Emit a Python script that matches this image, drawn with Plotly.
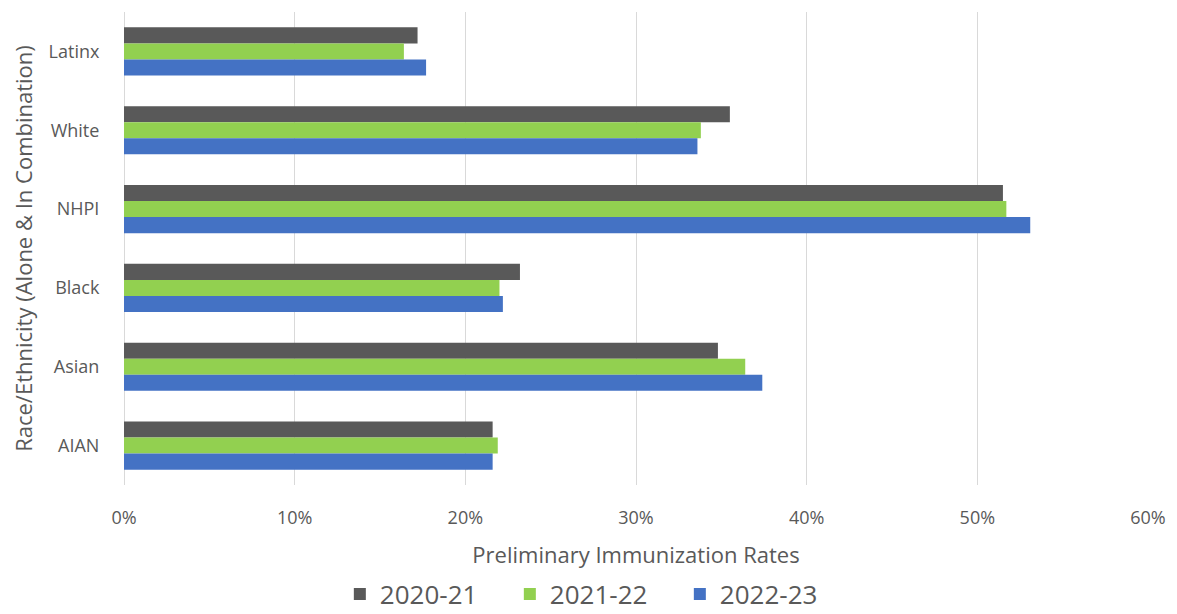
import plotly.graph_objects as go

categories = ["Latinx", "White", "NHPI", "Black", "Asian", "AIAN"]
series_names = ["2020-21", "2021-22", "2022-23"]
rates_2020_21 = [17.2, 35.5, 51.5, 23.2, 34.8, 21.6]
rates_2021_22 = [16.4, 33.8, 51.7, 22.0, 36.4, 21.9]
rates_2022_23 = [17.7, 33.6, 53.1, 22.2, 37.4, 21.6]
colors = ["#595959", "#92D050", "#4472C4"]
x_ticks = [0, 10, 20, 30, 40, 50, 60]
x_tick_labels = ["0%", "10%", "20%", "30%", "40%", "50%", "60%"]

FONT = "Open Sans, Noto Sans, sans-serif"
GREY = "#595959"

fig = go.Figure()
for name, vals, col in zip(series_names, [rates_2020_21, rates_2021_22, rates_2022_23], colors):
    fig.add_trace(go.Bar(
        y=categories, x=vals, name=name, orientation="h",
        marker=dict(color=col, line=dict(width=0)),
    ))

# the page body has an 8px margin, so the figure is sized to fit the window
fig.update_layout(
    width=1169, height=606,
    margin=dict(l=116, r=29, t=4, b=129, autoexpand=False),
    paper_bgcolor="white", plot_bgcolor="white",
    barmode="group", bargap=0.39, bargroupgap=0,
    font=dict(family=FONT, color=GREY),
    showlegend=True,
    legend=dict(
        orientation="h", xref="container", yref="container",
        x=0.502, xanchor="center", y=0.033, yanchor="middle",
        font=dict(size=26, color=GREY, family=FONT),
        entrywidth=125, entrywidthmode="pixels",
        traceorder="normal", itemclick=False, itemdoubleclick=False,
    ),
)
fig.update_xaxes(
    range=[0, 60], tickvals=x_ticks, ticktext=x_tick_labels,
    showgrid=True, gridcolor="#d9d9d9", gridwidth=1,
    zeroline=True, zerolinecolor="#d9d9d9", zerolinewidth=1,
    showline=False, ticks="outside", ticklen=16, tickcolor="rgba(0,0,0,0)",
    tickfont=dict(size=18, color=GREY, family=FONT),
    title=dict(text="Preliminary Immunization Rates", font=dict(size=22, color=GREY, family=FONT), standoff=20),
    automargin=False, fixedrange=True,
)
fig.update_yaxes(
    autorange="reversed", categoryorder="array", categoryarray=categories,
    showgrid=False, showline=False,
    ticks="outside", ticklen=20, tickcolor="rgba(0,0,0,0)",
    tickfont=dict(size=18, color=GREY, family=FONT),
    title=dict(text="Race/Ethnicity (Alone & In Combination)", font=dict(size=22, color=GREY, family=FONT), standoff=16),
    automargin=False, fixedrange=True,
)

fig.write_html("out.html")
